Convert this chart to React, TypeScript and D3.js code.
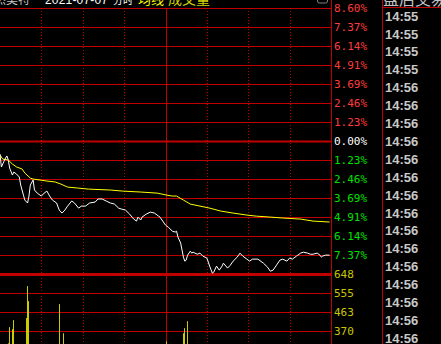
import React from "react";
import * as d3 from "d3";

const W = 441;
const H = 344;

// Price line: minute index (0..240) and percent change
const priceMin = [0,1,4,5,6,7,9,10,12,14,15,17,18,20,21,22,24,25,27,29,30,32,34,36,38,41,43,45,47,49,52,54,57,59,62,65,69,71,74,77,80,83,86,88,91,94,97,99,100,102,103,106,109,112,115,116,118,120,122,125,127,128,129,131,133,134,135,136,138,139,140,143,145,147,150,152,154,155,157,159,161,162,165,167,169,172,174,176,179,181,183,187,191,194,196,198,201,203,205,208,210,212,215,218,220,223,225,227,230,232,233,234,236,239];
const pricePct = [-0.84,-1.68,-1.10,-0.97,-1.23,-1.75,-2.20,-2.01,-2.14,-2.33,-2.85,-3.50,-3.82,-4.01,-3.56,-2.85,-2.52,-3.17,-3.37,-3.50,-3.56,-3.37,-3.24,-3.56,-3.82,-4.01,-4.47,-4.66,-4.47,-4.21,-3.88,-4.01,-4.34,-4.21,-4.21,-4.01,-3.95,-3.75,-3.75,-3.88,-4.01,-4.08,-4.34,-4.40,-4.47,-4.73,-5.05,-5.18,-4.92,-5.11,-4.92,-4.73,-4.60,-4.66,-4.86,-4.92,-5.18,-5.44,-5.57,-5.83,-5.89,-5.83,-6.21,-6.60,-7.51,-7.77,-7.70,-7.38,-7.12,-7.25,-7.19,-7.32,-7.25,-7.44,-7.57,-8.09,-8.55,-8.48,-8.09,-8.35,-8.09,-7.90,-8.22,-8.03,-7.77,-7.51,-7.25,-7.44,-7.64,-7.77,-7.64,-7.64,-7.90,-8.16,-8.42,-8.35,-7.96,-7.70,-7.64,-7.77,-7.57,-7.64,-7.44,-7.25,-7.19,-7.25,-7.32,-7.32,-7.25,-7.38,-7.51,-7.44,-7.38,-7.38];

// Average price line
const avgMin = [0,2,6,9,12,16,18,22,24,34,40,44,49,56,64,80,89,102,114,121,125,128,133,138,145,152,160,169,179,186,196,205,218,227,239];
const avgPct = [-0.91,-1.17,-1.23,-1.49,-1.68,-1.81,-2.07,-2.40,-2.46,-2.59,-2.65,-2.78,-2.98,-3.04,-3.11,-3.17,-3.24,-3.30,-3.37,-3.50,-3.56,-3.56,-3.82,-4.08,-4.21,-4.34,-4.53,-4.66,-4.79,-4.86,-4.92,-4.98,-5.05,-5.18,-5.24];

// Volume bars
const volMin = [6,7,9,10,19,20,21,43,46,121,133,134,136];
const volValue = [310,389,379,423,433,589,516,501,359,320,359,384,418];

const pctTicks = [8.60,7.37,6.14,4.91,3.69,2.46,1.23,0,-1.23,-2.46,-3.69,-4.91,-6.14,-7.37];
const volTicks = [648,555,463,370];
const timeLabels = ["14:55","14:55","14:55","14:55","14:56","14:56","14:56","14:56","14:56","14:56","14:56","14:56","14:56","14:56","14:56","14:56","14:56","14:56","14:56"];
const gridMinutes = [30,60,90,120,150,180,210,240];

const GRID = "#c00000";

export default function App() {
  const x = d3.scaleLinear().domain([0, 240]).range([0, 331]);
  const y = d3.scaleLinear().domain([8.6, -8.6]).range([8, 274]);
  const yv = d3.scaleLinear().domain([648, 370]).range([274, 331]);

  const line = d3
    .line<[number, number]>()
    .x((d) => x(d[0]))
    .y((d) => y(d[1]));
  const pricePts = priceMin.map((m, i) => [m, pricePct[i]] as [number, number]);
  const avgPts = avgMin.map((m, i) => [m, avgPct[i]] as [number, number]);

  return (
    <svg
      width={W}
      height={H}
      style={{ position: "absolute", left: 0, top: 0, display: "block", background: "#000" }}
    >
      <rect x={0} y={0} width={W} height={H} fill="#000" />
      {/* vertical grid */}
      {gridMinutes.map((m) => {
        const xx = Math.round(x(m)) + 0.5;
        const solid = m === 120 || m === 240;
        return (
          <line
            key={"v" + m}
            x1={xx}
            x2={xx}
            y1={m === 240 ? 0 : 8}
            y2={H}
            stroke={GRID}
            strokeWidth={1}
            strokeDasharray={solid ? undefined : "1,2"}
          />
        );
      })}
      <line x1={382.5} x2={382.5} y1={0} y2={H} stroke={GRID} strokeWidth={1} />
      {/* horizontal price grid */}
      {pctTicks.map((t) => (
        <line
          key={"h" + t}
          x1={0}
          x2={331}
          y1={Math.round(y(t)) + 0.5}
          y2={Math.round(y(t)) + 0.5}
          stroke={GRID}
          strokeWidth={t === 0 ? 2 : 1}
        />
      ))}
      <line x1={383} x2={W} y1={7.5} y2={7.5} stroke={GRID} strokeWidth={1} />
      {/* volume grid */}
      {volTicks.map((t, i) => (
        <line
          key={"vh" + t}
          x1={0}
          x2={331}
          y1={Math.round(yv(t)) + 0.5}
          y2={Math.round(yv(t)) + 0.5}
          stroke={GRID}
          strokeWidth={i === 0 ? 3 : 1}
        />
      ))}
      {/* volume bars */}
      {volMin.map((m, i) => (
        <rect
          key={"b" + i}
          x={Math.floor(x(m))}
          y={yv(volValue[i])}
          width={1}
          height={H - yv(volValue[i])}
          fill="#cccc00"
        />
      ))}
      {/* lines */}
      <path d={line(avgPts) || ""} fill="none" stroke="#ffff00" strokeWidth={1} />
      <path d={line(pricePts) || ""} fill="none" stroke="#ffffff" strokeWidth={1} />
      {/* pct labels */}
      {pctTicks.map((t) => (
        <text
          key={"l" + t}
          x={334}
          y={y(t)}
          dy="0.36em"
          fontFamily="DejaVu Sans Mono"
          fontSize={11}
          fill={t > 0 ? "#ff3c3c" : t === 0 ? "#ffffff" : "#00e000"}
        >
          {Math.abs(t).toFixed(2) + "%"}
        </text>
      ))}
      {volTicks.map((t) => (
        <text
          key={"vl" + t}
          x={334}
          y={yv(t)}
          dy="0.36em"
          fontFamily="DejaVu Sans Mono"
          fontSize={11}
          fill="#c8c800"
        >
          {t}
        </text>
      ))}
      {/* right time panel */}
      {timeLabels.map((s, i) => (
        <text
          key={"t" + i}
          x={385}
          y={16 + i * 17.9}
          dy="0.36em"
          fontFamily="Liberation Sans"
          fontWeight="bold"
          fontSize={13}
          fill="#c8c8c8"
        >
          {s}
        </text>
      ))}
      <text x={383} y={5} fontFamily="Noto Sans CJK SC" fontSize={16} fill="#c0c0c0">
        盘后交易
      </text>
      {/* header */}
      <text x={-6} y={3.5} fontFamily="Noto Sans CJK SC" fontSize={12} fill="#c0c0c0">
        杰美特
      </text>
      <text x={45} y={3.5} fontFamily="Liberation Sans" fontSize={12} fill="#ffffff" textLength={63}>
        2021-07-07
      </text>
      <text x={113} y={3.5} fontFamily="Noto Sans CJK SC" fontSize={10} fill="#ffffff">
        分时
      </text>
      <text x={138} y={3.5} fontFamily="Noto Sans CJK SC" fontSize={13} fill="#ffff00">
        均线
      </text>
      <text x={168} y={3.5} fontFamily="Noto Sans CJK SC" fontSize={14} fill="#d0d000">
        成交量
      </text>
      <rect x={317.5} y={-6} width={10} height={9} rx={2} fill="none" stroke="#808080" strokeWidth={1} />
    </svg>
  );
}
